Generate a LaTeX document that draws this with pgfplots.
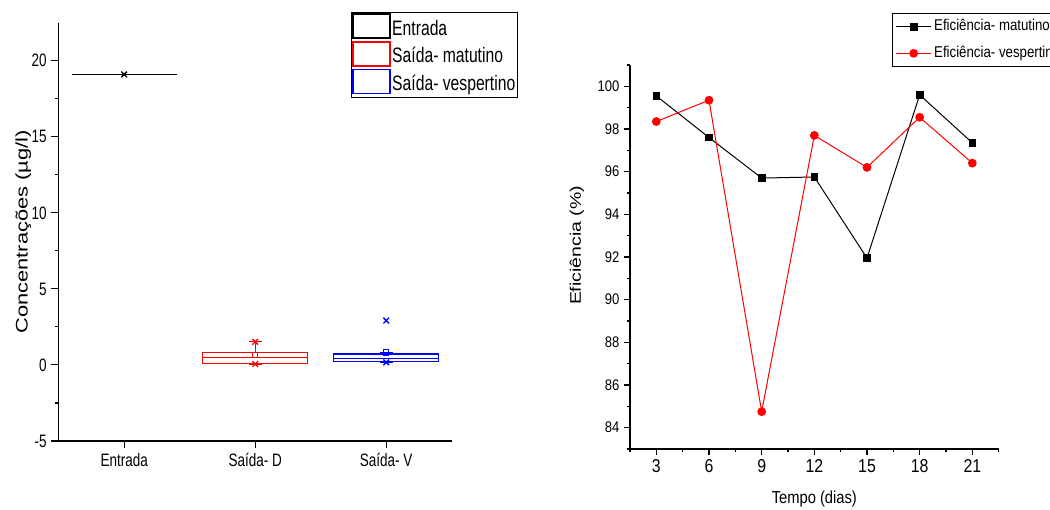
\documentclass[border=0pt]{standalone}
\usepackage{fontspec}
\setmainfont{Liberation Sans}
\newfontfamily\lfont{Liberation Sans}[FakeStretch=0.75]
\newfontfamily\rfont{Liberation Sans}[FakeStretch=0.85]
\newfontfamily\lrot{Liberation Sans}[FakeStretch=1.3]
\newfontfamily\rrot{Liberation Sans}[FakeStretch=1.27]
\usepackage{pgfplots}
\pgfplotsset{compat=1.18}
\usepgfplotslibrary{statistics}

\begin{document}
\begin{tikzpicture}
% left: box plot of concentrations
\begin{axis}[
  at={(44pt,51.75pt)}, anchor=south west, scale only axis,
  width=294.8pt, height=313.7pt,
  xmin=0.5, xmax=3.5, ymin=-5, ymax=22.5,
  axis x line*=bottom, axis y line*=left,
  axis line style={-, line width=0.9pt},
  every tick/.style={black, line width=0.8pt},
  tick align=outside, major tick length=5.5pt, minor tick length=2.5pt,
  xtick={1,2,3}, xticklabels={Entrada, Saída- D, Saída- V},
  ytick={-5,0,5,10,15,20}, minor ytick={-2.5,2.5,7.5,12.5,17.5},
  /pgf/number format/assume math mode=true,
  tick label style={font=\lfont\fontsize{13.5}{15}\selectfont},
  ylabel={\lrot\fontsize{12.6}{14}\selectfont Concentrações (µg/l)},
  ylabel style={at={(axis description cs:-0.09,0.5)}, anchor=center},
  legend style={at={(0.744,1.0256)}, anchor=north west, draw=black,
    line width=0.8pt, inner sep=0.5pt, row sep=0pt,
    font=\lfont\fontsize{15.7}{17}\selectfont,
    nodes={inner sep=1pt, text height=11pt, text depth=3.5pt}},
  legend cell align=left,
  boxplot/draw direction=y,
  boxplot/box extend=0.8, boxplot/whisker extend=0.1,
]
\addplot[black, line width=1pt,
  legend image code/.code={\draw[line width=1.2pt] (0pt,-6pt) rectangle (27.75pt,12pt);},
  boxplot prepared={draw position=1, lower whisker=19.1, lower quartile=19.1,
    median=19.1, upper quartile=19.1, upper whisker=19.1}]
  coordinates {};
\addlegendentry{Entrada}
\addplot[red, line width=1pt,
  legend image code/.code={\draw[line width=1.2pt] (0pt,-6pt) rectangle (27.75pt,12pt);},
  boxplot prepared={draw position=2, lower whisker=0.06, lower quartile=0.08,
    median=0.5, upper quartile=0.83, upper whisker=1.52}]
  coordinates {};
\addlegendentry{Saída- matutino}
\addplot[blue, line width=1pt,
  legend image code/.code={\draw[line width=1.2pt] (0pt,-6pt) rectangle (27.75pt,12pt);},
  boxplot prepared={draw position=3, lower whisker=0.17, lower quartile=0.24,
    median=0.44, upper quartile=0.72, upper whisker=0.78}]
  coordinates {};
\addlegendentry{Saída- vespertino}
% min / max and outliers
\addplot[black, only marks, mark=x, mark size=3pt, line width=1pt, forget plot]
  coordinates {(1,19.1)};
\addplot[red, only marks, mark=x, mark size=3pt, line width=1pt, forget plot]
  coordinates {(2,1.52) (2,0.06)};
\addplot[blue, only marks, mark=x, mark size=3pt, line width=1pt, forget plot]
  coordinates {(3,0.17) (3,2.92)};
% means
\addplot[red, only marks, mark=square, mark size=2pt, line width=0.9pt, forget plot]
  coordinates {(2,0.66)};
\addplot[blue, only marks, mark=square, mark size=2pt, line width=0.9pt, forget plot]
  coordinates {(3,0.83)};
\end{axis}

% right: efficiency over time
\begin{axis}[
  at={(472.5pt,45.75pt)}, anchor=south west, scale only axis,
  width=276.5pt, height=288pt,
  xmin=1.5, xmax=22.5, ymin=83, ymax=101,
  axis x line*=bottom, axis y line*=left,
  axis line style={-, line width=0.9pt},
  every tick/.style={black, line width=0.8pt},
  tick align=outside, major tick length=4.5pt, minor tick length=2.5pt,
  xtick={3,6,...,21}, ytick={84,86,...,100},
  minor xtick={1.5,4.5,...,22.5}, minor ytick={83,85,...,101},
  /pgf/number format/assume math mode=true,
  xticklabel style={font=\rfont\fontsize{14}{15}\selectfont},
  yticklabel style={font=\rfont\fontsize{11.5}{13}\selectfont},
  xlabel={\rfont\fontsize{13}{15}\selectfont Tempo (dias)},
  xlabel style={at={(axis description cs:0.5,-0.13)}, anchor=center},
  ylabel={\rrot\fontsize{11.5}{13}\selectfont Eficiência (\%)},
  ylabel style={at={(axis description cs:-0.144,0.53)}, anchor=center},
  legend style={at={(0.7106,1.135)}, anchor=north west, draw=black,
    line width=0.8pt, inner sep=2.5pt, row sep=5.5pt,
    font=\rfont\fontsize{11.7}{13}\selectfont,
    nodes={inner sep=2pt, text height=8pt, text depth=2.5pt}},
  legend cell align=left,
  legend image code/.code={\draw[mark repeat=2, mark phase=2]
    plot coordinates {(0pt,0pt) (13pt,0pt) (26pt,0pt)};},
]
\addplot[black, line width=0.75pt, mark=square*, mark size=2.5pt] coordinates {
  (3,99.55) (6,97.6) (9,95.7) (12,95.75) (15,91.95) (18,99.6) (21,97.35)
};
\addlegendentry{Eficiência- matutino}
\addplot[red, line width=0.75pt, mark=*, mark size=2.9pt] coordinates {
  (3,98.35) (6,99.35) (9,84.75) (12,97.7) (15,96.2) (18,98.55) (21,96.4)
};
\addlegendentry{Eficiência- vespertino}
\end{axis}
\pgfresetboundingbox
\useasboundingbox (0,0) rectangle (787.5pt,382.5pt);
\end{tikzpicture}
\end{document}
